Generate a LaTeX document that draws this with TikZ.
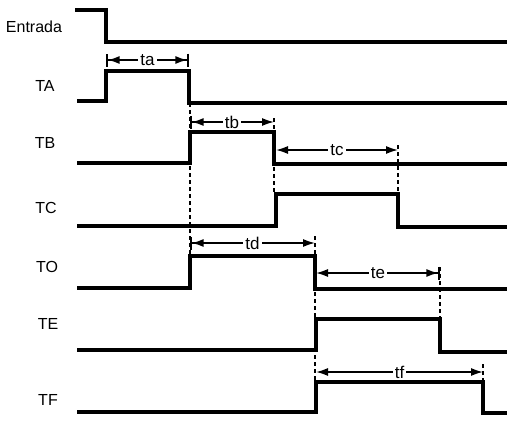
\documentclass[tikz,border=0pt]{standalone}
\usepackage{fontspec}
\setmainfont{Liberation Sans}
\usetikzlibrary{arrows.meta}

\begin{document}
\begin{tikzpicture}[x=1pt,y=-1pt,
      wave/.style={line width=3.6pt},
      guide/.style={line width=1.5pt,dash pattern=on 4pt off 3pt},
      dimline/.style={line width=1.6pt,{Latex[length=12pt,width=8pt]}-{Latex[length=12pt,width=8pt]}},
      barleft/.style={{Bar[width=13pt,line width=1.6pt]Latex[length=12pt,width=8pt]}-{Latex[length=12pt,width=8pt]}},
      barright/.style={{Latex[length=12pt,width=8pt]}-{Latex[length=12pt,width=8pt]Bar[width=13pt,line width=1.6pt]}},
      barboth/.style={{Bar[width=13pt,line width=1.6pt]Latex[length=12pt,width=8pt]}-{Latex[length=12pt,width=8pt]Bar[width=13pt,line width=1.6pt]}},
      signame/.style={font=\fontsize{16}{18}\selectfont},
      dimlabel/.style={fill=white,inner sep=2pt,font=\fontsize{17}{19}\selectfont}
      ]
      \useasboundingbox (0,0) rectangle (516,424);
      % signal names
      \node[signame] (entrada) at (34,27) {Entrada};
      \node[signame] (sa) at (45,86) {TA};
      \node[signame] (sb) at (45,143) {TB};
      \node[signame] (sc) at (46,208) {TC};
      \node[signame] (so) at (47,267) {TO};
      \node[signame] (se) at (48,324) {TE};
      \node[signame] (sf) at (48,400) {TF};
      % waveforms
      \draw[wave] (75,10) -- (106,10) -- (106,42) -- (507,42);
      \draw[wave] (77,101) -- (106,101) -- (106,71) -- (189,71) -- (189,103) -- (507,103);
      \draw[wave] (77,163) -- (190,163) -- (190,132) -- (274,132) -- (274,164) -- (507,164);
      \draw[wave] (77,226) -- (276,226) -- (276,194) -- (398,194) -- (398,227) -- (507,227);
      \draw[wave] (77,288) -- (190,288) -- (190,256) -- (315,256) -- (315,289) -- (507,289);
      \draw[wave] (77,350) -- (316,350) -- (316,319) -- (440,319) -- (440,352) -- (507,352);
      \draw[wave] (77,412) -- (316,412) -- (316,382) -- (483,382) -- (483,413) -- (507,413);
      % dimension end points
      \foreach \n/\xa/\xb/\y in {ta/106/189/60, tb/190/274/122, tc/276/398/150,
                                td/190/315/243, te/316/440/273, tf/316/483/372}
        {\coordinate (\n l) at (\xa,\y);
         \coordinate (\n r) at (\xb,\y);}
      % guides
      \draw[guide] (190,103) -- (190,256);
      \draw[guide] (274,118) -- (274,194);
      \draw[guide] (398,145) -- (398,194);
      \draw[guide] (315,236) -- (315,382);
      \draw[guide] (440,267) -- (440,319);
      \draw[guide] (483,364) -- (483,382);
      % time intervals
      \draw[line width=1.6pt,barboth] (tal) -- node[dimlabel] {ta} (tar);
      \draw[line width=1.6pt,barleft] (tbl) -- node[dimlabel] {tb} (tbr);
      \draw[dimline] (tcl) -- node[dimlabel] {tc} (tcr);
      \draw[line width=1.6pt,barleft] (tdl) -- node[dimlabel] {td} (tdr);
      \draw[line width=1.6pt,barright] (tel) -- node[dimlabel] {te} (ter);
      \draw[dimline] (tfl) -- node[dimlabel] {tf} (tfr);
\end{tikzpicture}
\end{document}
